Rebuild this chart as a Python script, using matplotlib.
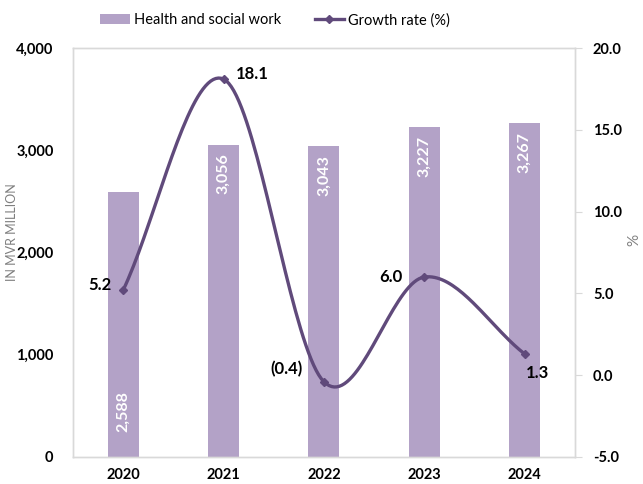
import numpy as np
import matplotlib.pyplot as plt
from matplotlib.ticker import FuncFormatter
from matplotlib.lines import Line2D
from matplotlib.patches import Patch

# データ
years = ["2020", "2021", "2022", "2023", "2024"]
health_social = [2588, 3056, 3043, 3227, 3267]
growth_rate = [5.2, 18.1, -0.4, 6.0, 1.3]
growth_labels = ["5.2", "18.1", "(0.4)", "6.0", "1.3"]

BAR_COLOR = "#B3A2C7"
LINE_COLOR = "#604A7B"
AXIS_GRAY = "#D9D9D9"

plt.rcParams['font.family'] = ['Lato', 'DejaVu Sans']


def smooth_curve(x, y, n=40):
    """Catmull-Rom風のスムージング（Excelの平滑線に近づける）"""
    x = np.asarray(x, float)
    y = np.asarray(y, float)
    px = np.concatenate([[2 * x[0] - x[1]], x, [2 * x[-1] - x[-2]]])
    py = np.concatenate([[2 * y[0] - y[1]], y, [2 * y[-1] - y[-2]]])
    xs, ys = [], []
    for i in range(1, len(px) - 2):
        t = np.linspace(0, 1, n)
        for arr, out in ((px, xs), (py, ys)):
            p0, p1, p2, p3 = arr[i - 1], arr[i], arr[i + 1], arr[i + 2]
            out.append(0.5 * ((2 * p1) + (-p0 + p2) * t
                              + (2 * p0 - 5 * p1 + 4 * p2 - p3) * t ** 2
                              + (-p0 + 3 * p1 - 3 * p2 + p3) * t ** 3))
    return np.concatenate(xs), np.concatenate(ys)


fig = plt.figure(figsize=(6.43, 4.84), dpi=100)
ax = fig.add_axes([0.1135, 0.0558, 0.7805, 0.845])
ax2 = ax.twinx()

x = np.arange(len(years))
bars = ax.bar(x, health_social, width=0.31, color=BAR_COLOR, zorder=2)
ax.set_xlim(-0.5, len(years) - 0.5)
ax.set_ylim(0, 4000)
ax.set_yticks([0, 1000, 2000, 3000, 4000])
ax.yaxis.set_major_formatter(FuncFormatter(lambda v, p: f"{int(v):,}"))
ax.set_xticks(x)
ax.set_xticklabels(years)

# 棒グラフのラベル（白、縦書き）
for i, (b, v) in enumerate(zip(bars, health_social)):
    if i == 0:
        y_pos, va = 240, "bottom"
    else:
        y_pos, va = v - 90, "top"
    ax.text(b.get_x() + b.get_width() / 2, y_pos, f"{v:,}", rotation=90,
            ha="center", va=va, color="white", fontsize=11.5, fontweight="bold",
            zorder=3)

# 成長率の線（平滑）
sx, sy = smooth_curve(x, growth_rate)
ax2.plot(sx, sy, color=LINE_COLOR, linewidth=2.4, zorder=4)
ax2.plot(x, growth_rate, linestyle="none", marker="D", markersize=4.5,
         color=LINE_COLOR, zorder=5)
ax2.set_ylim(-5, 20)
ax2.set_yticks([-5, 0, 5, 10, 15, 20])
ax2.yaxis.set_major_formatter(FuncFormatter(lambda v, p: f"{v:.1f}"))

offsets = [(-8.5, 3.6, "right"), (9, 3.6, "left"), (-15, 9, "right"),
           (-16, 0, "right"), (1, -14, "left")]
for xi, yi, lab, (dx, dy, ha) in zip(x, growth_rate, growth_labels, offsets):
    ax2.annotate(lab, (xi, yi), xytext=(dx, dy), textcoords="offset points",
                 ha=ha, va="center", fontsize=12, fontweight="bold",
                 color="black", zorder=6)

# 軸のスタイル
for a in (ax, ax2):
    for s in a.spines.values():
        s.set_color(AXIS_GRAY)
        s.set_linewidth(1.0)
ax.tick_params(axis="y", length=0, labelsize=10.5, pad=14)
ax.tick_params(axis="x", length=0, labelsize=10.5, pad=8)
ax2.tick_params(axis="y", length=5, color=AXIS_GRAY, labelsize=10.5, pad=8)
for lab in ax.get_yticklabels() + ax.get_xticklabels() + ax2.get_yticklabels():
    lab.set_fontweight("bold")

fig.text(12 / 643, 1 - 232 / 484, "IN MVR MILLION", rotation=90, color="#7F7F7F",
         fontsize=9, ha="center", va="center")
fig.text(634 / 643, 1 - 240 / 484, "%", rotation=90, color="#7F7F7F",
         fontsize=11, ha="center", va="center")

# 凡例
handles = [Patch(facecolor=BAR_COLOR, edgecolor="none"),
           Line2D([0], [0], color=LINE_COLOR, linewidth=2.4, marker="D",
                  markersize=4)]
fig.legend(handles, ["Health and social work", "Growth rate (%)"],
           loc="upper center", bbox_to_anchor=(0.428, 1.0), ncol=2,
           frameon=False, fontsize=10.5, handlelength=2.0, columnspacing=2.3,
           handletextpad=0.3)

fig.savefig("out.png", dpi=100)
